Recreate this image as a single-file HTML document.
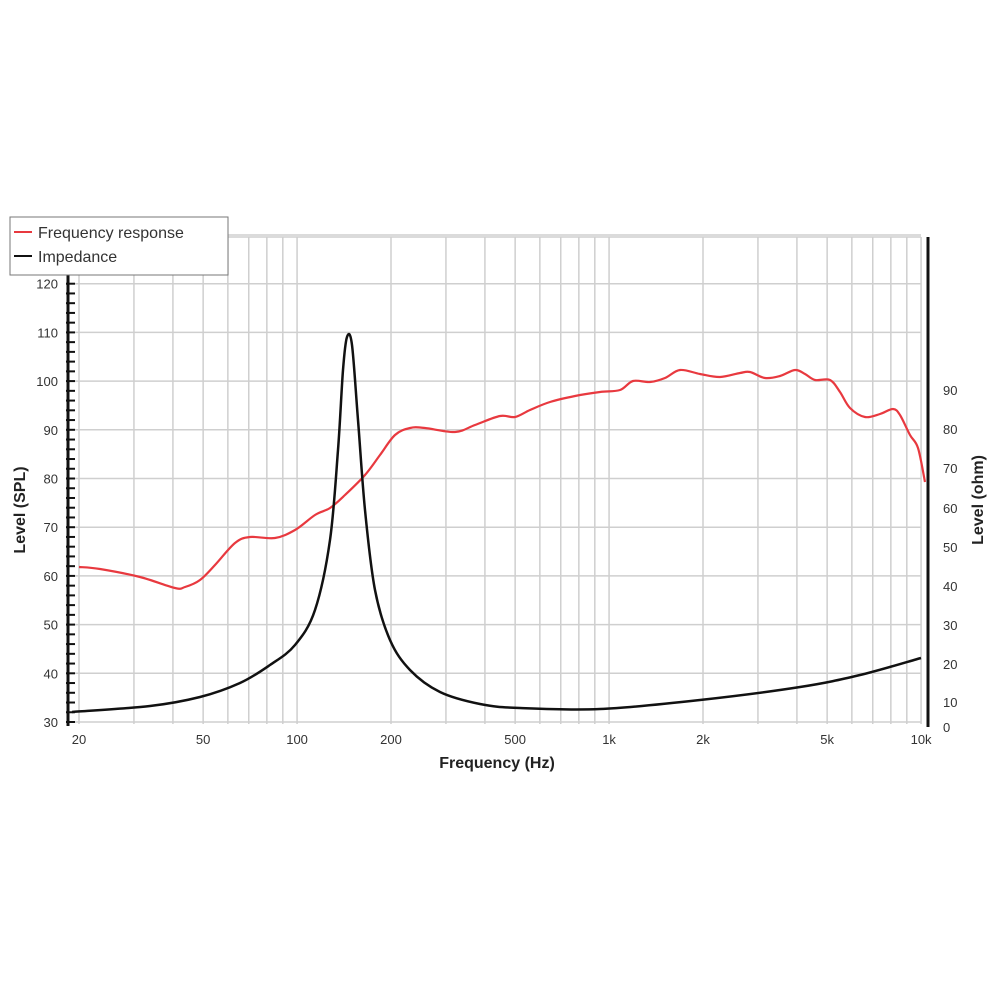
<!DOCTYPE html>
<html><head><meta charset="utf-8"><style>
html,body{margin:0;padding:0;background:#fff;}
svg{display:block;font-family:"Liberation Sans",sans-serif;}
</style></head><body>
<svg id="s" width="1000" height="1000" viewBox="0 0 1000 1000" xmlns="http://www.w3.org/2000/svg">
<g id="grid" stroke="#cfcfcf" stroke-width="1.5"></g>
<g id="axes"></g>
<path id="red" fill="none" stroke="#e8393f" stroke-width="2.2"/>
<path id="blk" fill="none" stroke="#111" stroke-width="2.5"/>
<rect x="10" y="217" width="218" height="58" fill="#fff" stroke="#777" stroke-width="1"/>
<line x1="14" y1="232" x2="32" y2="232" stroke="#e8393f" stroke-width="2"/>
<text x="38" y="238" font-size="16" fill="#333">Frequency response</text>
<line x1="14" y1="256" x2="32" y2="256" stroke="#111" stroke-width="2"/>
<text x="38" y="262" font-size="16" fill="#333">Impedance</text>
<text x="497" y="768" font-size="16" font-weight="bold" text-anchor="middle" fill="#222">Frequency (Hz)</text>
<text transform="translate(25,510) rotate(-90)" font-size="16" font-weight="bold" text-anchor="middle" fill="#222">Level (SPL)</text>
<text transform="translate(983,500) rotate(-90)" font-size="16" font-weight="bold" text-anchor="middle" fill="#222">Level (ohm)</text>
</svg>
<script>
var NS="http://www.w3.org/2000/svg";
function el(p,t,a,txt){var e=document.createElementNS(NS,t);for(var k in a)e.setAttribute(k,a[k]);if(txt!=null)e.textContent=txt;p.appendChild(e);return e;}
var g=document.getElementById('grid'),ax=document.getElementById('axes');
function X(f){return 79+Math.log10(f/20)*312;}
var fs=[];[10,100,1000].forEach(function(d){for(var i=1;i<10;i++){var f=i*d*(d==10?1:1);if(d==10&&i<2)continue;fs.push(f);}});fs.push(10000);
fs=fs.filter(function(f){return f>=20&&f<=10000;});
fs.forEach(function(f){var x=X(f);el(g,'line',{x1:x,y1:237,x2:x,y2:724});});
function Y(v){return 722-(v-30)*4.87;}
for(var v=30;v<=130;v+=10){el(g,'line',{x1:68,y1:Y(v),x2:921,y2:Y(v)});}
el(g,'line',{x1:68,y1:237,x2:921,y2:237});
el(ax,'line',{x1:68,y1:237,x2:68,y2:726,stroke:'#111','stroke-width':3});
for(var v=30;v<=128;v+=2){el(ax,'line',{x1:66,y1:Y(v),x2:75,y2:Y(v),stroke:'#111','stroke-width':2});}
for(var v=30;v<=120;v+=10){el(ax,'text',{x:58,y:Y(v)+5,'font-size':13,'text-anchor':'end',fill:'#333'},v);}
el(ax,'line',{x1:928,y1:237,x2:928,y2:727,stroke:'#111','stroke-width':3});
var rl={90:390,80:429,70:468,60:508,50:547,40:586,30:625,20:664,10:702,0:727};
for(var k in rl){el(ax,'text',{x:943,y:rl[k]+5,'font-size':13,fill:'#333'},k);}
[[20,'20'],[50,'50'],[100,'100'],[200,'200'],[500,'500'],[1000,'1k'],[2000,'2k'],[5000,'5k'],[10000,'10k']].forEach(function(a){el(ax,'text',{x:X(a[0]),y:744,'font-size':13,'text-anchor':'middle',fill:'#333'},a[1]);});
function path(p){var d='M'+p[0][0]+','+p[0][1];for(var i=0;i<p.length-1;i++){var p0=p[i-1]||p[i],p1=p[i],p2=p[i+1],p3=p[i+2]||p2;var c1x=p1[0]+(p2[0]-p0[0])/6,c1y=p1[1]+(p2[1]-p0[1])/6,c2x=p2[0]-(p3[0]-p1[0])/6,c2y=p2[1]-(p3[1]-p1[1])/6;d+=' C'+c1x.toFixed(1)+','+c1y.toFixed(1)+' '+c2x.toFixed(1)+','+c2y.toFixed(1)+' '+p2[0]+','+p2[1];}return d;}
var red=[[79,567],[100,569],[140,577],[175,588],[185,587],[200,580],[215,565],[235,543],[250,537],[275,538],[295,530],[315,515],[330,508],[345,495],[365,475],[380,455],[395,435],[410,428],[425,428],[455,432],[475,425],[500,416],[515,417],[530,410],[550,402],[575,396],[600,392],[620,390],[633,381],[650,382],[665,378],[680,370],[700,374],[720,377],[740,373],[750,372],[765,378],[780,376],[795,370],[805,374],[815,380],[830,380],[840,392],[850,408],[865,417],[880,414],[893,409],[900,415],[910,435],[918,448],[925,482]];
var blk=[[72,712],[150,706],[200,697],[240,683],[270,665],[295,645],[315,610],[330,540],[338,450],[343,370],[347,337],[352,345],[358,420],[365,510],[375,590],[390,640],[410,670],[440,692],[480,704],[520,708],[600,709],[700,700],[800,687],[860,675],[921,658]];
document.getElementById('red').setAttribute('d',path(red));
document.getElementById('blk').setAttribute('d',path(blk));
</script>
</body></html>
